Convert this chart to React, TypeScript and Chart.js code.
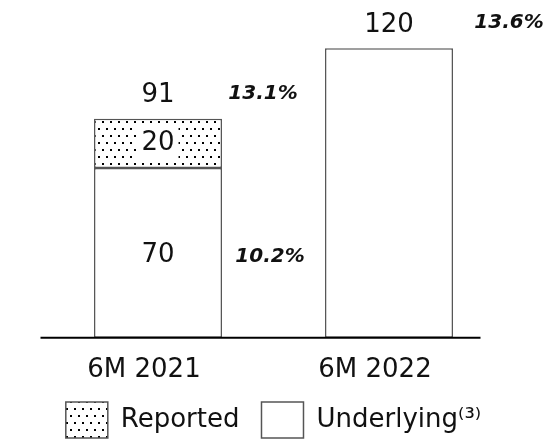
import React, { useEffect, useRef } from "react";
import { Chart, registerables } from "chart.js";

Chart.register(...registerables);

// Half-year periods and values (millions)
const categories = ["6M 2021", "6M 2022"];
const underlying = [70.4, 120];
const reported = [20.4, 0];
// Margins written beside the bars
const totalMargin = [13.1, 13.6];
const underlyingMargin: (number | null)[] = [10.2, null];
const legendNames = ["Reported", "Underlying⁽³⁾"];

const FONT = "'DejaVu Sans', 'Noto Sans', sans-serif";
const INK = "#111";
const EDGE = "#555";
// horizontal offset of each margin label's centre from its bar centre
const MARGIN_TOTAL_DX = [105, 120];
const MARGIN_UNDER_DX = [112, 112];

function dotPattern(): CanvasPattern | string {
  const c = document.createElement("canvas");
  c.width = 8;
  c.height = 14;
  const g = c.getContext("2d");
  if (!g) return "#ddd";
  g.fillStyle = "#fff";
  g.fillRect(0, 0, 8, 14);
  g.fillStyle = "#000";
  g.fillRect(2, 2, 2, 2);
  g.fillRect(6, 9, 2, 2);
  return g.createPattern(c, "repeat") || "#ddd";
}

const fmt = (v: number) => String(Math.round(v));

export default function App() {
  const ref = useRef<HTMLCanvasElement | null>(null);

  useEffect(() => {
    document.body.style.margin = "0";
    const canvas = ref.current;
    if (!canvas) return;
    const dots = dotPattern();

    const annotate = {
      id: "annotate",
      afterDatasetsDraw(chart: any) {
        const ctx = chart.ctx as CanvasRenderingContext2D;
        const area = chart.chartArea;
        // baseline
        ctx.save();
        ctx.strokeStyle = "#000";
        ctx.lineWidth = 2;
        ctx.beginPath();
        ctx.moveTo(area.left - 2, area.bottom);
        ctx.lineTo(area.right - 24, area.bottom);
        ctx.stroke();

        const under = chart.getDatasetMeta(0).data;
        const rep = chart.getDatasetMeta(1).data;
        ctx.textAlign = "center";
        ctx.textBaseline = "middle";
        categories.forEach((_, i) => {
          const u = under[i];
          const r = rep[i];
          const hasRep = reported[i] > 0;
          const topY = hasRep ? r.y : u.y;
          const total = underlying[i] + reported[i];

          ctx.fillStyle = INK;
          ctx.font = `26px ${FONT}`;
          const totalY = topY - 23;
          ctx.fillText(fmt(total), u.x, totalY);
          if (hasRep) {
            const txt = fmt(reported[i]);
            const midY = (r.y + r.base) / 2;
            const w = ctx.measureText(txt).width + 8;
            // white plate behind the label inside the dotted segment
            ctx.fillStyle = "#fff";
            ctx.fillRect(r.x - w / 2, midY - 17, w, 34);
            ctx.fillStyle = INK;
            ctx.fillText(txt, r.x, midY);
            ctx.fillText(fmt(underlying[i]), u.x, (u.y + u.base) / 2 + 2);
          }

          ctx.font = `italic bold 20px ${FONT}`;
          ctx.fillText(totalMargin[i].toFixed(1) + "%", u.x + MARGIN_TOTAL_DX[i], totalY - 2);
          const um = underlyingMargin[i];
          if (um !== null) {
            ctx.fillText(um.toFixed(1) + "%", u.x + MARGIN_UNDER_DX[i], (u.y + u.base) / 2 + 4);
          }
        });
        ctx.restore();
      },
    };

    const chart = new Chart(canvas, {
      type: "bar",
      data: {
        labels: categories,
        datasets: [
          {
            label: legendNames[1],
            data: underlying,
            backgroundColor: "#fff",
            borderColor: EDGE,
            borderWidth: 1.5,
            borderSkipped: false,
            barPercentage: 0.554,
            categoryPercentage: 1,
          },
          {
            label: legendNames[0],
            data: reported,
            backgroundColor: dots as any,
            borderColor: EDGE,
            borderWidth: 1.5,
            borderSkipped: false,
            barPercentage: 0.554,
            categoryPercentage: 1,
          },
        ],
      },
      options: {
        animation: false,
        responsive: true,
        maintainAspectRatio: false,
        layout: { padding: { left: 42.5, right: 42.5, top: 0, bottom: -9 } },
        scales: {
          x: {
            stacked: true,
            grid: { display: false },
            border: { display: false },
            afterFit: (s: any) => {
              s.height = s.height - 15;
            },
            ticks: {
              color: INK,
              font: { family: FONT, size: 26 },
              padding: 9,
              labelOffset: -14,
            },
          },
          y: {
            stacked: true,
            display: false,
            min: 0,
            max: 140,
          },
        },
        plugins: {
          tooltip: { enabled: false },
          legend: {
            position: "bottom",
            reverse: true,
            labels: {
              color: INK,
              font: { family: FONT, size: 26 },
              boxWidth: 42,
              boxHeight: 36,
              padding: 22,
              generateLabels: (c: any) =>
                c.data.datasets.map((d: any, i: number) => ({
                  text: d.label,
                  fillStyle: d.backgroundColor,
                  strokeStyle: EDGE,
                  lineWidth: 1.5,
                  datasetIndex: i,
                  hidden: false,
                  fontColor: INK,
                })),
            },
          },
        },
      },
      plugins: [annotate],
    });

    return () => chart.destroy();
  }, []);

  return (
    <div style={{ position: "relative", width: 547, height: 439 }}>
      <canvas ref={ref} />
    </div>
  );
}
